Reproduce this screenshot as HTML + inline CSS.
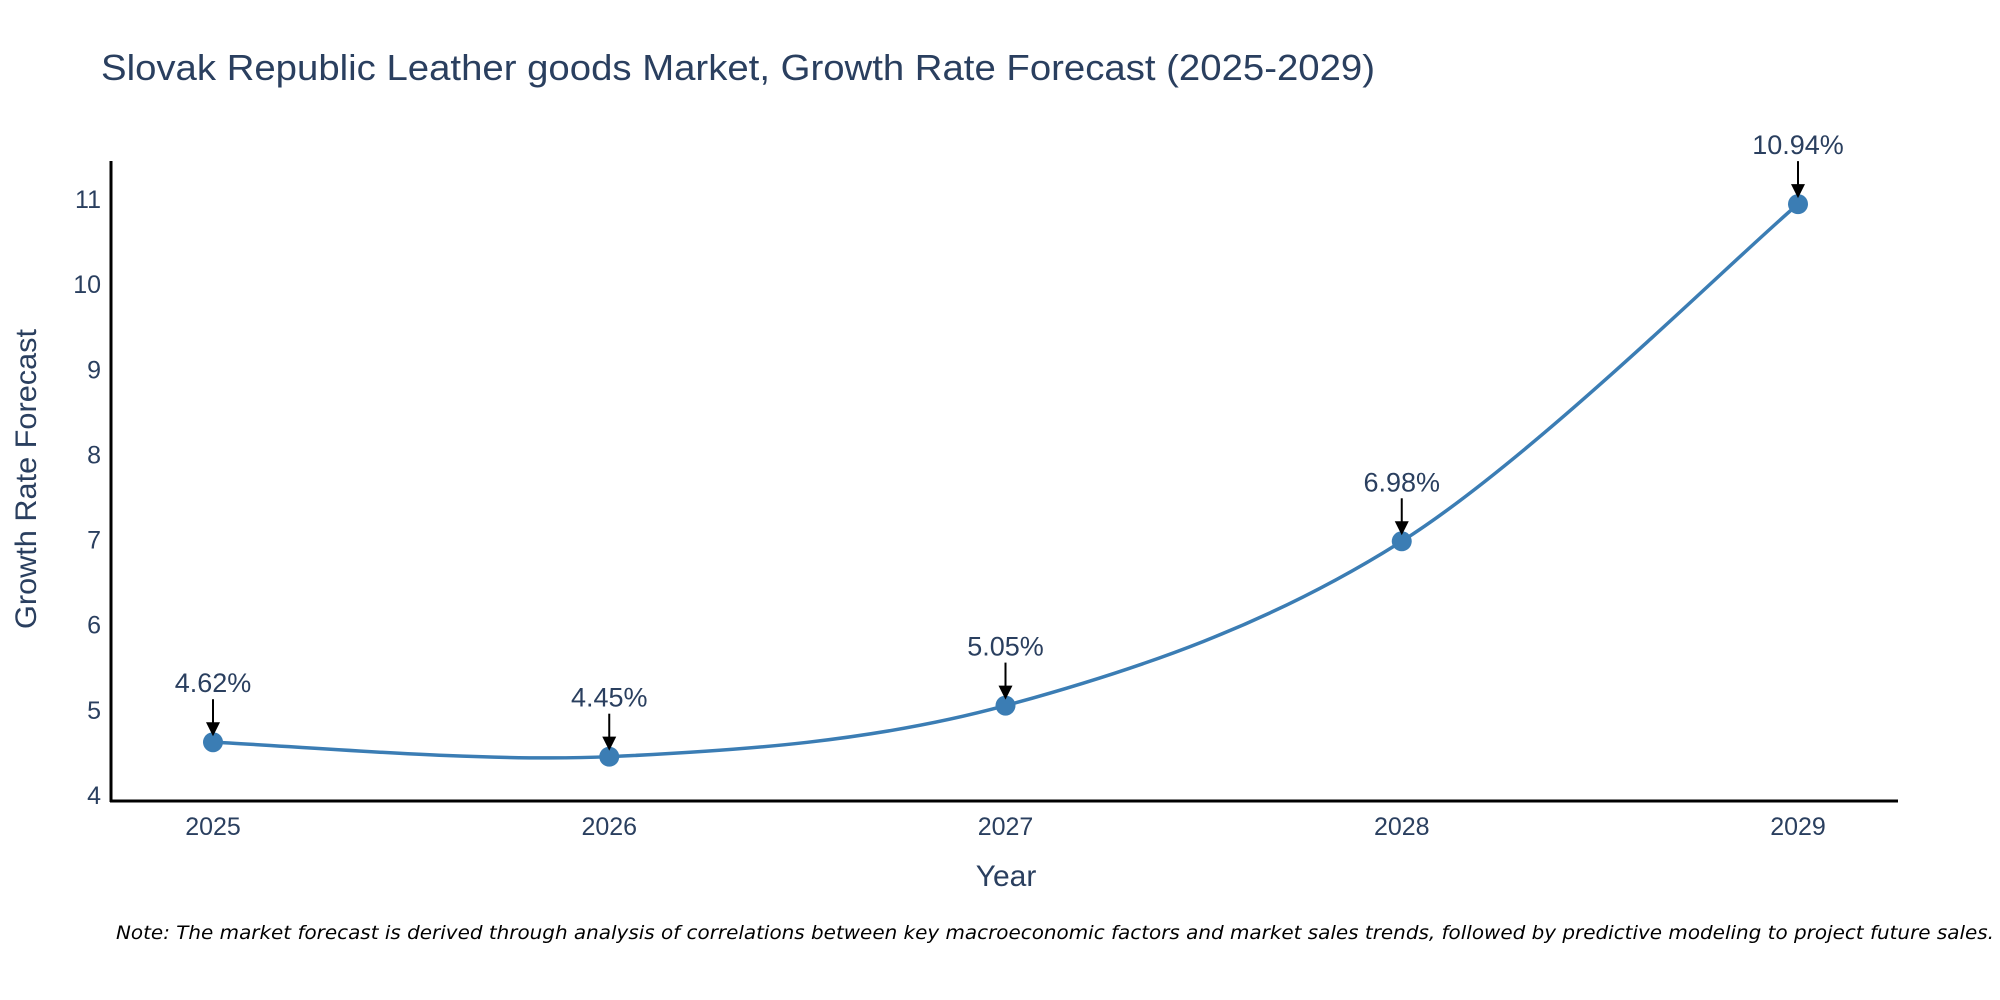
<!DOCTYPE html>
<html><head><meta charset="utf-8"><style>
body{margin:0;background:#fff}
svg{display:block;font-family:"Liberation Sans","DejaVu Sans",sans-serif}
</style></head><body>
<svg id="chart" width="2000" height="1000">
<text x="101" y="80" font-size="36" fill="#2a3f5f" textLength="1274" lengthAdjust="spacingAndGlyphs">Slovak Republic Leather goods Market, Growth Rate Forecast (2025-2029)</text>
<g id="yticks"></g>
<g id="xticks"></g>
<line x1="111" y1="161" x2="111" y2="802" stroke="#000" stroke-width="3"/>
<line x1="110" y1="801" x2="1898" y2="801" stroke="#000" stroke-width="3"/>
<path id="line" fill="none" stroke="#3b7db4" stroke-width="3.5"/>
<g id="points"></g>
<g id="annots"></g>
<text x="1006" y="886" font-size="30" fill="#2a3f5f" text-anchor="middle">Year</text>
<text transform="translate(36,479) rotate(-90)" font-size="30" fill="#2a3f5f" text-anchor="middle" textLength="300" lengthAdjust="spacingAndGlyphs">Growth Rate Forecast</text>
<text x="116" y="939" font-size="19" font-style="italic" fill="#000" font-family="DejaVu Sans, sans-serif" textLength="1878" lengthAdjust="spacingAndGlyphs">Note: The market forecast is derived through analysis of correlations between key macroeconomic factors and market sales trends, followed by predictive modeling to project future sales.</text>
</svg>
<script>
const years = [2025, 2026, 2027, 2028, 2029];
const growth = [4.62, 4.45, 5.05, 6.98, 10.94];
const labels = ["4.62%", "4.45%", "5.05%", "6.98%", "10.94%"];
const yTicks = [4, 5, 6, 7, 8, 9, 10, 11];

const NS = "http://www.w3.org/2000/svg";
function X(yr){ return 213 + (yr - 2025) * 396.25; }
function Y(v){ return 795 - (v - 4) * 85.14; }
function mk(tag, attrs, parent){ const e=document.createElementNS(NS,tag); for(const k in attrs) e.setAttribute(k,attrs[k]); parent.appendChild(e); return e; }

const yt=document.getElementById('yticks');
yTicks.forEach(t=>{
  const e=mk('text',{x:101,y:Y(t)+9,'font-size':25,fill:'#2a3f5f','text-anchor':'end'},yt);
  
  
  e.textContent=t;
});
const xt=document.getElementById('xticks');
years.forEach(yr=>{
  const e=mk('text',{x:X(yr),y:835,'font-size':25,fill:'#2a3f5f','text-anchor':'middle'},xt);
  
  
  e.textContent=yr;
});

const pts=years.map((yr,i)=>[X(yr),Y(growth[i])]);
let d='M'+pts[0][0]+','+pts[0][1];
const s=0.5;
for(let i=0;i<pts.length-1;i++){
  const p0=pts[i-1]||pts[i],p1=pts[i],p2=pts[i+1],p3=pts[i+2]||p2;
  const c1=[p1[0]+(p2[0]-p0[0])*s/3,p1[1]+(p2[1]-p0[1])*s/3];
  const c2=[p2[0]-(p3[0]-p1[0])*s/3,p2[1]-(p3[1]-p1[1])*s/3];
  d+=' C'+c1+' '+c2+' '+p2;
}
document.getElementById('line').setAttribute('d',d);

const pg=document.getElementById('points');
const ag=document.getElementById('annots');
pts.forEach((p,i)=>{
  const c=mk('circle',{cx:p[0],cy:p[1],r:10,fill:'#3b7db4'},pg);
  
  
  const l=mk('line',{x1:p[0],y1:p[1]-43,x2:p[0],y2:p[1]-18,stroke:'#000','stroke-width':2},ag);
  
  
  const h=mk('path',{d:`M${p[0]-7},${p[1]-20} L${p[0]+7},${p[1]-20} L${p[0]},${p[1]-6} Z`,fill:'#000'},ag);
  
  
  const t=mk('text',{x:p[0],y:p[1]-50,'font-size':27,fill:'#2a3f5f','text-anchor':'middle'},ag);
  
  
  t.textContent=labels[i];
});
</script>
</body></html>
